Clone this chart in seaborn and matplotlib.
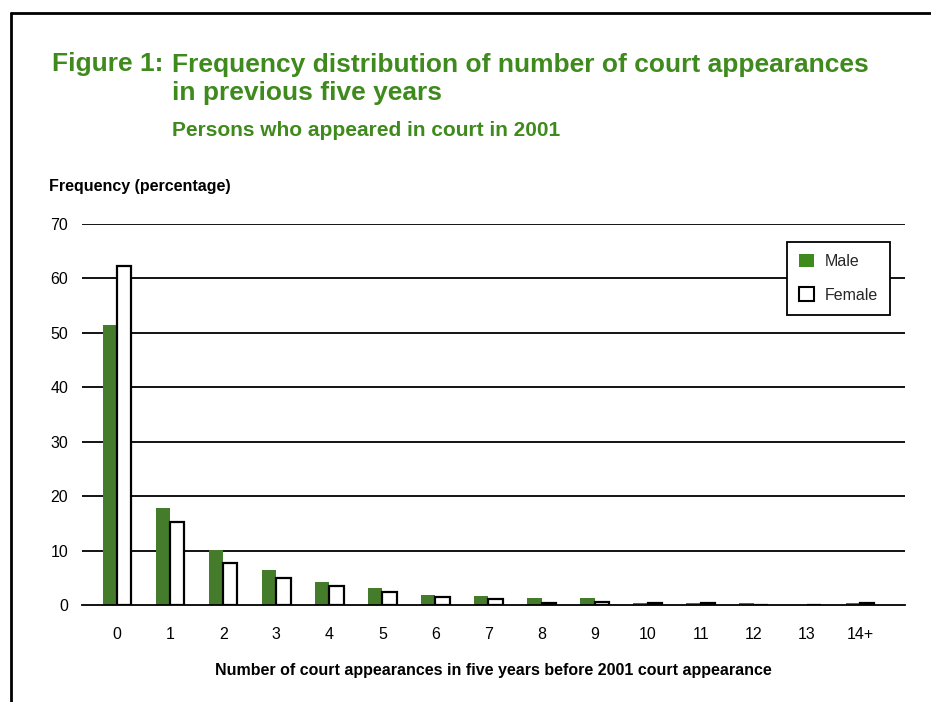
"""Frequency distribution of number of court appearances, persons in court in 2001."""
import matplotlib.pyplot as plt
import pandas as pd
import seaborn as sns
from matplotlib.lines import Line2D

categorias = ["0", "1", "2", "3", "4", "5", "6", "7", "8", "9", "10", "11", "12", "13", "14+"]
male = [51.5, 17.8, 10.1, 6.4, 4.3, 3.2, 1.9, 1.6, 1.2, 1.2, 0.4, 0.4, 0.3, 0.0, 0.4]
female = [62.3, 15.2, 7.8, 4.9, 3.4, 2.3, 1.5, 1.1, 0.4, 0.6, 0.4, 0.4, 0.0, 0.0, 0.4]
y_ticks = [0, 10, 20, 30, 40, 50, 60, 70]

VERDE = "#3f8a1d"

df = pd.DataFrame(
    {
        "Appearances": categorias * 2,
        "Frequency": male + female,
        "Sex": ["Male"] * len(categorias) + ["Female"] * len(categorias),
    }
)

sns.set_theme(style="white")
plt.rcParams["font.family"] = ["Liberation Sans", "DejaVu Sans"]

fig = plt.figure(figsize=(9.31, 7.02), dpi=100)
ax = fig.add_axes([0.0881, 0.1382, 0.884, 0.5427])

sns.barplot(
    data=df,
    x="Appearances",
    y="Frequency",
    hue="Sex",
    hue_order=["Male", "Female"],
    palette={"Male": VERDE, "Female": "white"},
    width=0.54,
    gap=0.0,
    ax=ax,
    legend=False,
)

# barras femininas com contorno preto
n = len(categorias)
for i, patch in enumerate(ax.patches):
    if i < n:
        patch.set_edgecolor("none")
        patch.set_linewidth(0)
    else:
        patch.set_edgecolor("black")
        patch.set_linewidth(1.6)

ax.set_xlim(-0.66, 14.85)
ax.set_ylim(0, 70)
ax.set_yticks(y_ticks)
for v in y_ticks[1:]:
    ax.axhline(v, color="black", lw=1.3, zorder=0)

for s in ["top", "right", "left"]:
    ax.spines[s].set_visible(False)
ax.spines["bottom"].set_color("black")
ax.spines["bottom"].set_linewidth(1.3)
ax.tick_params(axis="both", length=0, labelsize=11.5, colors="black")
ax.tick_params(axis="y", pad=10)
ax.tick_params(axis="x", pad=16)
ax.set_xlabel("")
ax.set_ylabel("")

handles = [
    plt.Rectangle((0, 0), 1, 1, facecolor=VERDE, edgecolor="none"),
    plt.Rectangle((0, 0), 1, 1, facecolor="white", edgecolor="black", linewidth=1.5),
]
leg = ax.legend(
    handles,
    ["Male", "Female"],
    loc="upper right",
    bbox_to_anchor=(0.982, 0.953),
    frameon=True,
    fancybox=False,
    framealpha=1,
    edgecolor="black",
    fontsize=11.5,
    handlelength=0.9,
    handleheight=0.9,
    handletextpad=0.7,
    borderpad=0.75,
    labelspacing=1.15,
    borderaxespad=0,
)
leg.get_frame().set_linewidth(1.3)

# títulos
fig.text(52 / 931, 1 - 64 / 702, "Figure 1:", color=VERDE, fontsize=19, fontweight="bold", va="center")
fig.text(
    172 / 931,
    1 - 79 / 702,
    "Frequency distribution of number of court appearances\nin previous five years",
    color=VERDE,
    fontsize=19,
    fontweight="bold",
    va="center",
    linespacing=1.25,
)
fig.text(172 / 931, 1 - 130 / 702, "Persons who appeared in court in 2001", color=VERDE,
         fontsize=15, fontweight="bold", va="center")
fig.text(49 / 931, 1 - 187 / 702, "Frequency (percentage)", color="black", fontsize=11.5,
         fontweight="bold", va="center")
fig.text(493 / 931, 1 - 670 / 702, "Number of court appearances in five years before 2001 court appearance",
         color="black", fontsize=11.5, fontweight="bold", va="center", ha="center")

# moldura
fig.add_artist(Line2D([11 / 931, 1.0], [1 - 12.5 / 702] * 2, color="black", lw=2, transform=fig.transFigure))
fig.add_artist(Line2D([11 / 931] * 2, [0.0, 1 - 12.5 / 702], color="black", lw=2, transform=fig.transFigure))

plt.savefig("out.png", dpi=100)
plt.close()
